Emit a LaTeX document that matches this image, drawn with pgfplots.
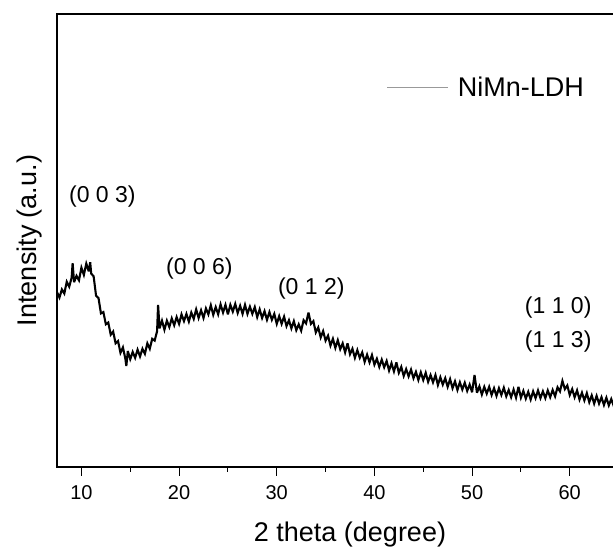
\documentclass[border=0pt]{standalone}
\usepackage{pgfplots}
\pgfplotsset{compat=1.18}
\usepackage{fontspec}
\setmainfont{Liberation Sans}

\begin{document}
\begin{tikzpicture}
\begin{axis}[
    scale only axis,
    width=586pt, height=453pt,
    xmin=7.5, xmax=67.5,
    ymin=0, ymax=100,
    ytick=\empty,
    xtick={10,20,...,60},
    minor x tick num=1,
    tick align=outside,
    xtick pos=bottom,
    major tick length=8.5pt,
    minor tick length=4.5pt,
    axis line style={line width=1.2pt},
    every tick/.style={black, line width=1.1pt},
    /pgf/number format/assume math mode=true,
    ticklabel style={font=\fontsize{20}{24}\selectfont},
    xticklabel style={yshift=-6pt},
    xlabel={2 theta (degree)},
    ylabel={Intensity (a.u.)},
    label style={font=\fontsize{27}{32}\selectfont},
    xlabel style={yshift=-16pt},
    ylabel style={yshift=3pt},
    legend style={draw=none, fill=none, at={(axis description cs:0.563,0.837)},
        anchor=west, inner sep=0pt, column sep=9pt,
        font=\fontsize{27}{32}\selectfont,
        nodes={inner sep=0pt}},
    legend image code/.code={\draw[gray!80, line width=0.7pt] (0pt,0pt) -- (61pt,0pt);},
    clip=false,
]
\addplot[black, line width=2.1pt, line join=miter, miter limit=4] coordinates {
(7.50,38.6) (7.75,37.4) (8.00,39.2) (8.25,38.3) (8.50,40.9) (8.75,39.8)
(9.00,41.8) (9.10,45.0) (9.25,40.8) (9.50,42.2) (9.75,41.2) (10.00,44.0)
(10.25,42.4) (10.50,44.9) (10.75,43.2) (10.90,45.2) (11.00,42.7) (11.25,42.1)
(11.50,37.8) (11.75,37.3) (12.00,33.9) (12.25,34.2) (12.50,31.5) (12.75,31.9)
(13.00,29.2) (13.25,29.9) (13.50,27.3) (13.75,27.8) (14.00,25.2) (14.25,26.4)
(14.50,23.9) (14.60,22.3) (14.75,25.6) (15.00,23.8) (15.25,25.4) (15.50,24.1)
(15.75,25.9) (16.00,24.4) (16.25,26.1) (16.50,25.0) (16.75,27.3) (17.00,26.1)
(17.25,28.3) (17.50,27.9) (17.75,30.0) (17.85,35.8) (18.00,30.6) (18.25,32.3)
(18.50,30.3) (18.75,32.3) (19.00,30.9) (19.25,32.8) (19.50,31.3) (19.75,33.1)
(20.00,31.6) (20.25,33.7) (20.50,32.2) (20.75,33.8) (21.00,32.1) (21.25,34.1)
(21.50,32.7) (21.75,34.8) (22.00,32.9) (22.25,34.6) (22.50,32.9) (22.75,35.0)
(23.00,33.7) (23.25,35.7) (23.50,33.6) (23.75,35.3) (24.00,33.7) (24.25,35.9)
(24.50,34.1) (24.75,35.8) (25.00,33.7) (25.25,35.8) (25.50,34.3) (25.75,36.0)
(26.00,34.0) (26.25,35.6) (26.50,33.8) (26.75,35.8) (27.00,33.8) (27.25,35.4)
(27.50,33.8) (27.75,35.3) (28.00,33.1) (28.25,34.8) (28.50,32.9) (28.75,34.4)
(29.00,32.5) (29.25,34.2) (29.50,32.5) (29.75,33.8) (30.00,31.6) (30.25,33.3)
(30.50,31.6) (30.75,33.2) (31.00,31.1) (31.25,32.4) (31.50,30.6) (31.75,32.2)
(32.00,30.2) (32.25,31.5) (32.50,30.1) (32.75,32.4) (33.00,31.7) (33.25,34.1)
(33.50,31.6) (33.75,32.2) (34.00,29.7) (34.25,30.8) (34.50,28.6) (34.75,30.0)
(35.00,27.9) (35.25,29.0) (35.50,26.8) (35.75,28.3) (36.00,26.3) (36.25,28.0)
(36.50,26.0) (36.75,27.3) (37.00,25.3) (37.25,27.3) (37.50,24.9) (37.75,26.1)
(38.00,24.1) (38.25,25.8) (38.50,24.1) (38.75,25.3) (39.00,23.2) (39.25,24.8)
(39.50,23.1) (39.75,24.7) (40.00,22.6) (40.25,23.9) (40.50,22.1) (40.75,23.7)
(41.00,22.0) (41.25,23.4) (41.50,21.3) (41.75,22.9) (42.00,21.1) (42.25,23.1)
(42.50,20.8) (42.75,22.1) (43.00,20.1) (43.25,21.6) (43.50,20.0) (43.75,21.5)
(44.00,19.6) (44.25,21.0) (44.50,19.2) (44.75,20.9) (45.00,19.2) (45.25,20.8)
(45.50,18.8) (45.75,20.3) (46.00,18.7) (46.25,20.3) (46.50,18.1) (46.75,19.8)
(47.00,18.2) (47.25,19.6) (47.50,17.7) (47.75,19.4) (48.00,17.4) (48.25,18.9)
(48.50,17.0) (48.75,18.7) (49.00,17.1) (49.25,18.6) (49.50,16.8) (49.75,18.2)
(50.00,16.5) (50.25,20.3) (50.50,16.4) (50.75,17.8) (51.00,16.0) (51.25,17.7)
(51.50,16.2) (51.75,17.7) (52.00,15.9) (52.25,17.4) (52.50,15.7) (52.75,17.4)
(53.00,15.9) (53.25,17.5) (53.50,15.6) (53.75,17.0) (54.00,15.4) (54.25,17.1)
(54.50,15.3) (54.75,17.7) (55.00,15.3) (55.25,16.8) (55.50,15.1) (55.75,16.6)
(56.00,14.9) (56.25,16.7) (56.50,15.2) (56.75,16.9) (57.00,15.2) (57.25,16.7)
(57.50,15.2) (57.75,16.9) (58.00,15.4) (58.25,17.0) (58.50,15.6) (58.75,17.6)
(59.00,16.7) (59.25,19.0) (59.50,17.2) (59.75,18.0) (60.00,15.9) (60.25,17.2)
(60.50,15.4) (60.75,16.9) (61.00,14.9) (61.25,16.4) (61.50,14.7) (61.75,16.3)
(62.00,14.3) (62.25,15.8) (62.50,14.0) (62.75,15.7) (63.00,14.0) (63.25,15.4)
(63.50,13.7) (63.75,15.3) (64.00,13.6) (64.25,15.0) (64.50,13.5) (64.75,14.8)
(65.00,13.3) (65.25,14.6) (65.50,13.2)
};
\addlegendentry{NiMn-LDH}

\node[font=\fontsize{23}{28}\selectfont] at (axis cs:12.15,59.6) {(0 0 3)};
\node[font=\fontsize{23}{28}\selectfont] at (axis cs:22.08,43.9) {(0 0 6)};
\node[font=\fontsize{23}{28}\selectfont] at (axis cs:33.54,39.5) {(0 1 2)};
\node[font=\fontsize{23}{28}\selectfont] at (axis cs:58.82,35.1) {(1 1 0)};
\node[font=\fontsize{23}{28}\selectfont] at (axis cs:58.82,27.6) {(1 1 3)};
\end{axis}
\pgfresetboundingbox
\useasboundingbox ([shift={(-57pt,-83pt)}]current axis.south west) rectangle ([shift={(556pt,467pt)}]current axis.south west);
\end{tikzpicture}
\end{document}
